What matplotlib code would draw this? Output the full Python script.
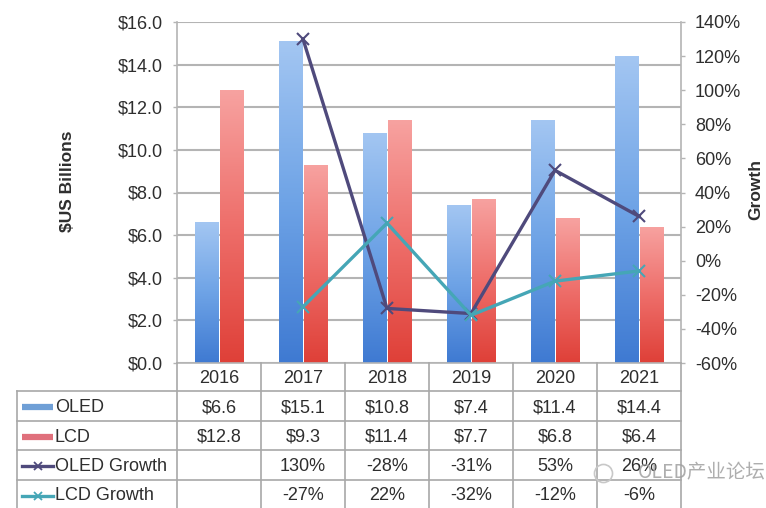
import numpy as np
import matplotlib.pyplot as plt
from matplotlib.colors import LinearSegmentedColormap
from matplotlib.ticker import FormatStrFormatter

# data
years = ['2016', '2017', '2018', '2019', '2020', '2021']
oled = [6.6, 15.1, 10.8, 7.4, 11.4, 14.4]
lcd = [12.8, 9.3, 11.4, 7.7, 6.8, 6.4]
oled_growth = [None, 130, -28, -31, 53, 26]
lcd_growth = [None, -27, 22, -32, -12, -6]
row_labels = ['OLED', 'LCD', 'OLED Growth', 'LCD Growth']
left_ticks = np.arange(0, 17, 2)
right_ticks = np.arange(-60, 141, 20)

W, H = 766, 508
plt.rcParams['font.family'] = ['Liberation Sans', 'DejaVu Sans']
txt_col = '#2e2e2e'
grid_col = '#b4b4b4'
purple = '#4f4a7c'
teal = '#45a6b6'

# gradient maps, dark at bottom -> light at top
blue_cmap = LinearSegmentedColormap.from_list('blue', ['#3f7ad2', '#6ea3e6', '#a3c6f2'])
red_cmap = LinearSegmentedColormap.from_list('red', ['#df4038', '#ee6e6a', '#f7a2a0'])


def px_rect(x0, y0, x1, y1):
    return [x0 / W, 1 - y1 / H, (x1 - x0) / W, (y1 - y0) / H]


fig = plt.figure(figsize=(W / 100, H / 100), dpi=100)
ax = fig.add_axes(px_rect(177, 22, 681, 363))

x = np.arange(len(years))
bw = 0.275
grad = np.linspace(0, 1, 200).reshape(-1, 1)

bars_o = ax.bar(x - 0.15, oled, bw, color='#6ea3e6', zorder=2)
bars_l = ax.bar(x + 0.15, lcd, bw, color='#ee6e6a', zorder=2)
for bars, cm in [(bars_o, blue_cmap), (bars_l, red_cmap)]:
    for b in bars:
        im = ax.imshow(grad, extent=[b.get_x(), b.get_x() + b.get_width(), 0, b.get_height()],
                       origin='lower', aspect='auto', cmap=cm, zorder=2.1)
        im.set_clip_path(b)

ax.set_xlim(-0.5, len(years) - 0.5)
ax.set_ylim(0, 16)
ax.set_yticks(left_ticks)
ax.yaxis.set_major_formatter(FormatStrFormatter('$%.1f'))
ax.set_xticks([])
ax.grid(axis='y', color=grid_col, linewidth=1.5, zorder=0)
ax.set_axisbelow(True)
ax.tick_params(axis='y', length=3, width=1, color=grid_col, pad=7, labelsize=13, labelcolor=txt_col)
for s in ['top', 'right']:
    ax.spines[s].set_visible(False)
for s in ['left', 'bottom']:
    ax.spines[s].set_color(grid_col)
    ax.spines[s].set_linewidth(1.2)

ax2 = ax.twinx()
ax2.plot(x[1:], oled_growth[1:], color=purple, lw=2.4, marker='x', ms=8, mew=1.5, zorder=3)
ax2.plot(x[1:], lcd_growth[1:], color=teal, lw=2.4, marker='x', ms=8, mew=1.5, zorder=3)
ax2.set_ylim(-60, 140)
ax2.set_yticks(right_ticks)
ax2.yaxis.set_major_formatter(FormatStrFormatter('%d%%'))
ax2.tick_params(axis='y', length=3, width=1, color=grid_col, pad=7, labelsize=13, labelcolor=txt_col)
for s in ['top', 'left', 'bottom']:
    ax2.spines[s].set_visible(False)
ax2.spines['right'].set_color(grid_col)
ax2.spines['right'].set_linewidth(1.2)

fig.text(68 / W, 1 - 181 / H, '$US Billions', rotation=90, fontsize=12.5, fontweight='bold',
         color=txt_col, ha='center', va='center')
fig.text(748 / W, 1 - 190 / H, 'Growth', rotation=90, fontsize=12.5, fontweight='bold',
         color=txt_col, ha='left', va='center')

# data table below the plot, drawn in pixel coordinates
tab = fig.add_axes([0, 0, 1, 1])
tab.set_xlim(0, W)
tab.set_ylim(H, 0)
tab.axis('off')
tab.patch.set_alpha(0)

col_edges = [177 + 84 * i for i in range(len(years) + 1)]
row_edges = [363, 391, 421, 450, 480, 509]
line_kw = dict(color='#a8a8a8', lw=1.2, clip_on=False)

# header row (years) only spans the data columns
for xe in col_edges:
    tab.plot([xe, xe], [row_edges[0], row_edges[-1]], **line_kw)
tab.plot([17, 17], [row_edges[1], row_edges[-1]], **line_kw)
for ye in row_edges[1:]:
    tab.plot([17, col_edges[-1]], [ye, ye], **line_kw)

for i, yr in enumerate(years):
    cx = (col_edges[i] + col_edges[i + 1]) / 2
    tab.text(cx, (row_edges[0] + row_edges[1]) / 2 + 1.5, yr, fontsize=13, color=txt_col,
             ha='center', va='center')

rows = [
    [f'${v:.1f}' for v in oled],
    [f'${v:.1f}' for v in lcd],
    ['' if v is None else f'{v}%' for v in oled_growth],
    ['' if v is None else f'{v}%' for v in lcd_growth],
]
for r, (lab, vals) in enumerate(zip(row_labels, rows)):
    cy = (row_edges[r + 1] + row_edges[r + 2]) / 2 + 1.5
    tab.text(55, cy, lab, fontsize=13, color=txt_col, ha='left', va='center')
    for i, v in enumerate(vals):
        cx = (col_edges[i] + col_edges[i + 1]) / 2
        tab.text(cx, cy, v, fontsize=13, color=txt_col, ha='center', va='center')

# legend keys in the label column
key_y = [(row_edges[r + 1] + row_edges[r + 2]) / 2 + 1 for r in range(4)]
tab.plot([22, 53], [key_y[0], key_y[0]], color='#6f9fd6', lw=4.5, solid_capstyle='butt')
tab.plot([22, 53], [key_y[1], key_y[1]], color='#e0707c', lw=4.5, solid_capstyle='butt')
tab.plot([22, 53], [key_y[2], key_y[2]], color=purple, lw=2.4)
tab.plot([37.5], [key_y[2]], color=purple, marker='x', ms=6, mew=1.3)
tab.plot([22, 53], [key_y[3], key_y[3]], color=teal, lw=2.4)
tab.plot([37.5], [key_y[3]], color=teal, marker='x', ms=6, mew=1.3)

# watermark
tab.text(638, 473, 'OLED产业论坛', fontsize=14, color='#a0a0a0', alpha=0.85,
         ha='left', va='center', family=['Noto Sans CJK SC', 'DejaVu Sans'])
tab.plot([603], [473], marker='o', ms=13, mfc='none', mec='#c8c8c8', mew=1.2)

fig.savefig('out.png', dpi=100)
